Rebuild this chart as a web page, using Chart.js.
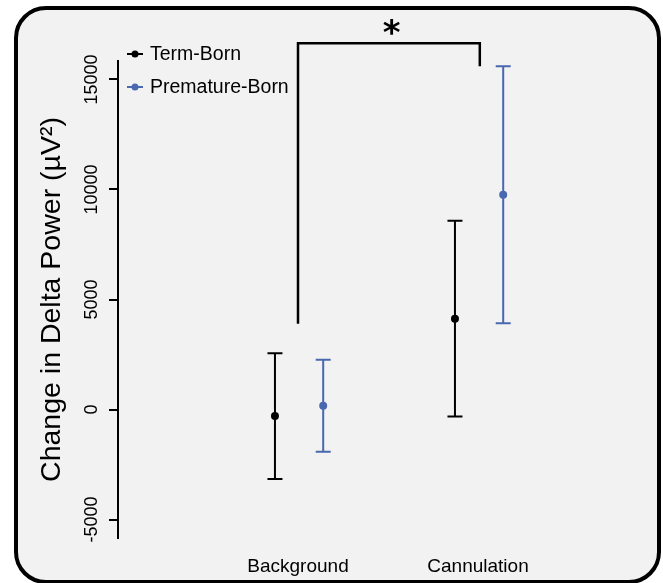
<!DOCTYPE html>
<html>
<head>
<meta charset="utf-8">
<script src="https://cdn.jsdelivr.net/npm/chart.js@4.4.1/dist/chart.umd.min.js"></script>
<style>
    html, body { margin: 0; padding: 0; background: #fff; }
    #card {
        position: absolute; left: 14px; top: 6px;
        width: 647px; height: 578px; box-sizing: border-box;
        border: 4px solid #000; border-radius: 32px; background: #f2f2f2;
    }
    #wrap { position: absolute; left: 0; top: 0; width: 663px; height: 583px; }
</style>
</head>
<body>
<div id="card"></div>
<div id="wrap"><canvas id="deltaChart"></canvas></div>
<script>
// values (µV²)
const categories = ['Background', 'Cannulation'];
const seriesNames = ['Term-Born', 'Premature-Born'];
const termMeans = [-300, 4130];
const termErrors = [2860, 4450];
const prematureMeans = [170, 9760];
const prematureErrors = [2090, 5840];
const yTicks = [-5000, 0, 5000, 10000, 15000];
// significance bracket: leg ends and top, in data units
const bracketLegs = [3900, 15600];
const bracketTop = 16650;
const sigLabel = '*';

const BLUE = '#4a68b0';
const TERM_SHIFT = -0.128;
const PREM_SHIFT = 0.14;

Chart.defaults.font.family = '"Liberation Sans", Arial, sans-serif';
Chart.defaults.color = '#000';

function toPoints(means, shift) {
    return means.map((m, i) => ({ x: i + 1 + shift, y: m }));
}

const errorBars = {
    id: 'errorBars',
    beforeDatasetsDraw(chart) {
        const { ctx, scales: { x, y } } = chart;
        chart.data.datasets.forEach(ds => {
            ctx.save();
            ctx.strokeStyle = ds.borderColor;
            ctx.lineWidth = 2;
            ds.data.forEach((p, i) => {
                const px = x.getPixelForValue(p.x);
                const top = y.getPixelForValue(p.y + ds.errors[i]);
                const bot = y.getPixelForValue(p.y - ds.errors[i]);
                ctx.beginPath();
                ctx.moveTo(px, top); ctx.lineTo(px, bot);
                ctx.moveTo(px - 7.5, top); ctx.lineTo(px + 7.5, top);
                ctx.moveTo(px - 7.5, bot); ctx.lineTo(px + 7.5, bot);
                ctx.stroke();
            });
            ctx.restore();
        });
    }
};

const bracket = {
    id: 'bracket',
    afterDraw(chart) {
        const { ctx, scales: { x, y } } = chart;
        const x1 = x.getPixelForValue(1), x2 = x.getPixelForValue(2.01);
        const yt = y.getPixelForValue(bracketTop);
        ctx.save();
        ctx.strokeStyle = '#000';
        ctx.lineWidth = 2.5;
        ctx.beginPath();
        ctx.moveTo(x1, y.getPixelForValue(bracketLegs[0]));
        ctx.lineTo(x1, yt);
        ctx.lineTo(x2, yt);
        ctx.lineTo(x2, y.getPixelForValue(bracketLegs[1]));
        ctx.stroke();
        ctx.fillStyle = '#000';
        ctx.font = 'bold 34px "DejaVu Sans", sans-serif';
        ctx.textAlign = 'center';
        ctx.textBaseline = 'alphabetic';
        ctx.fillText(sigLabel, x.getPixelForValue(1.52), yt + 1);
        ctx.restore();
    }
};

const sideLegend = {
    id: 'sideLegend',
    afterDraw(chart) {
        const { ctx } = chart;
        ctx.save();
        ctx.font = '19.5px "Liberation Sans", Arial, sans-serif';
        ctx.textBaseline = 'middle';
        chart.data.datasets.forEach((ds, i) => {
            const ly = 54 + i * 33;
            ctx.strokeStyle = ds.borderColor;
            ctx.fillStyle = ds.borderColor;
            ctx.lineWidth = 2;
            ctx.beginPath();
            ctx.moveTo(127, ly); ctx.lineTo(143, ly);
            ctx.stroke();
            ctx.beginPath();
            ctx.arc(135, ly, 3.5, 0, Math.PI * 2);
            ctx.fill();
            ctx.fillStyle = '#000';
            ctx.fillText(ds.label, 150, ly + 1);
        });
        ctx.restore();
    }
};

document.addEventListener('DOMContentLoaded', function() {
    const ctx = document.getElementById('deltaChart').getContext('2d');
    new Chart(ctx, {
        type: 'scatter',
        data: {
            datasets: [{
                label: seriesNames[0],
                data: toPoints(termMeans, TERM_SHIFT),
                errors: termErrors,
                borderColor: '#000',
                backgroundColor: '#000',
                pointRadius: 4,
                borderWidth: 0
            }, {
                label: seriesNames[1],
                data: toPoints(prematureMeans, PREM_SHIFT),
                errors: prematureErrors,
                borderColor: BLUE,
                backgroundColor: BLUE,
                pointRadius: 4,
                borderWidth: 0
            }]
        },
        options: {
            responsive: true,
            maintainAspectRatio: false,
            animation: false,
            layout: { padding: { top: 61, right: 23, left: 0, bottom: 0 } },
            plugins: {
                legend: { display: false },
                tooltip: { enabled: false }
            },
            scales: {
                x: {
                    type: 'linear',
                    min: 0,
                    max: 2.9,
                    afterBuildTicks: s => { s.ticks = categories.map((c, i) => ({ value: i + 1 })); },
                    afterFit: s => { s.height = 45; },
                    ticks: {
                        callback: (v, i) => categories[i],
                        font: { size: 19 },
                        padding: 9,
                        autoSkip: false,
                        maxRotation: 0
                    },
                    grid: { display: false },
                    border: { display: false }
                },
                y: {
                    type: 'linear',
                    min: -5840,
                    max: 15840,
                    afterBuildTicks: s => { s.ticks = yTicks.map(v => ({ value: v })); },
                    afterFit: s => { s.width = 118; },
                    ticks: {
                        callback: v => String(v),
                        font: { size: 18 },
                        minRotation: 90,
                        maxRotation: 90,
                        crossAlign: 'center',
                        padding: -8,
                        autoSkip: false
                    },
                    grid: {
                        display: true,
                        drawOnChartArea: false,
                        drawTicks: true,
                        tickLength: 9,
                        tickWidth: 2,
                        tickColor: '#000',
                        lineWidth: 2,
                        color: '#000'
                    },
                    border: { display: true, color: '#000', width: 2 },
                    title: {
                        display: true,
                        text: 'Change in Delta Power (µV²)',
                        font: { size: 28.5 },
                        padding: { top: 35, bottom: 0 }
                    }
                }
            }
        },
        plugins: [errorBars, bracket, sideLegend]
    });
});
</script>
</body>
</html>
